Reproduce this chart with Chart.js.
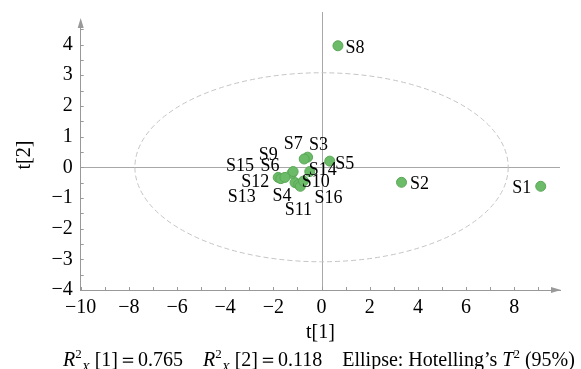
<!DOCTYPE html>
<html>
<head>
<meta charset="utf-8">
<script src="https://cdn.jsdelivr.net/npm/chart.js@4"></script>
<style>
  body { margin: 0; background: #fff; }
  #wrap { position: relative; width: 581px; height: 369px; }
  #note {
    position: absolute; left: 63px; top: 349px;
    font-family: "Liberation Serif", serif; font-size: 20px; color: #000;
    white-space: pre; line-height: 20px;
  }
  #note i { font-style: italic; }
  #note sup, #note sub { font-size: 13px; line-height: 0; }
</style>
</head>
<body>
<div id="wrap">
  <canvas id="scoreChart"></canvas>
  <div id="note"><i>R</i><sup>2</sup><sub><i>X</i></sub> [1]＝0.765    <i>R</i><sup>2</sup><sub><i>X</i></sub> [2]＝0.118    Ellipse: Hotelling’s <i>T</i><sup>2</sup> (95%)</div>
</div>
<script>
const sampleNames = ['S1','S2','S3','S4','S5','S6','S7','S8','S9','S10','S11','S12','S13','S14','S15','S16'];
const t1Values = [9.1, 3.32, -0.58, -1.1, 0.34, -1.23, -0.72, 0.68, -1.18, -0.95, -0.88, -1.8, -1.69, -0.49, -1.52, -0.75];
const t2Values = [-0.62, -0.49, 0.33, -0.5, 0.2, -0.2, 0.27, 3.96, -0.14, -0.56, -0.62, -0.33, -0.37, -0.14, -0.33, -0.45];

const xTicks = [-10, -8, -6, -4, -2, 0, 2, 4, 6, 8];
const yTicks = [-4, -3, -2, -1, 0, 1, 2, 3, 4];

// Hotelling T2 ellipse semi-axes
const ellipseA = 7.75;
const ellipseB = 3.08;

// label offsets in px from each point (dx, dy to label centre)
const labelOffsets = [
  [-19, 2], [18, 2], [11, -12], [-13, 14], [15, 3], [-22, -7], [-11, -15], [17, 2],
  [-25, -16], [17, -2], [-2, 24], [-23, 5], [-39, 19], [13, -1], [-45, -11], [25, 17]
];

const axisColor = '#999';
const serif = '"Liberation Serif", "Times New Roman", serif';

const decorPlugin = {
  id: 'decor',
  beforeDatasetsDraw(chart) {
    const ctx = chart.ctx;
    const xs = chart.scales.x, ys = chart.scales.y;
    const area = chart.chartArea;
    ctx.save();
    // zero lines
    ctx.strokeStyle = '#a8a8a8';
    ctx.lineWidth = 1;
    ctx.beginPath();
    const y0 = Math.round(ys.getPixelForValue(0)) + 0.5;
    const x0 = Math.round(xs.getPixelForValue(0)) + 0.5;
    ctx.moveTo(area.left, y0); ctx.lineTo(area.right, y0);
    ctx.moveTo(x0, area.top - 8); ctx.lineTo(x0, area.bottom);
    ctx.stroke();
    // ellipse
    const cx = xs.getPixelForValue(0), cy = ys.getPixelForValue(0);
    const rx = xs.getPixelForValue(ellipseA) - cx;
    const ry = cy - ys.getPixelForValue(ellipseB);
    ctx.strokeStyle = '#c4c4c4';
    ctx.setLineDash([5, 3]);
    ctx.beginPath();
    ctx.ellipse(cx, cy, rx, ry, 0, 0, Math.PI * 2);
    ctx.stroke();
    ctx.setLineDash([]);
    // inward tick marks
    ctx.strokeStyle = axisColor;
    ctx.beginPath();
    for (let v = xTicks[0]; v <= xTicks[xTicks.length - 1] + 1; v += 1) {
      const px = Math.round(xs.getPixelForValue(v)) + 0.5;
      ctx.moveTo(px, area.bottom); ctx.lineTo(px, area.bottom - 3);
    }
    for (let v = yTicks[0]; v <= yTicks[yTicks.length - 1] + 0.5; v += 0.5) {
      const py = Math.round(ys.getPixelForValue(v)) + 0.5;
      ctx.moveTo(area.left, py); ctx.lineTo(area.left + 3, py);
    }
    ctx.stroke();
    // arrows
    ctx.fillStyle = axisColor;
    ctx.beginPath();
    ctx.moveTo(area.right + 1, area.bottom);
    ctx.lineTo(area.right - 9, area.bottom - 3);
    ctx.lineTo(area.right - 9, area.bottom + 3);
    ctx.closePath();
    ctx.moveTo(area.left, area.top - 2);
    ctx.lineTo(area.left - 3, area.top + 8);
    ctx.lineTo(area.left + 3, area.top + 8);
    ctx.closePath();
    ctx.fill();
    ctx.restore();
  },
  afterDatasetsDraw(chart) {
    const ctx = chart.ctx;
    const meta = chart.getDatasetMeta(0);
    ctx.save();
    ctx.font = '18px ' + serif;
    ctx.fillStyle = '#000';
    ctx.textAlign = 'center';
    ctx.textBaseline = 'middle';
    meta.data.forEach((pt, i) => {
      const off = labelOffsets[i];
      ctx.fillText(sampleNames[i], pt.x + off[0], pt.y + off[1]);
    });
    ctx.restore();
  }
};

const points = t1Values.map((v, i) => ({ x: v, y: t2Values[i] }));

new Chart(document.getElementById('scoreChart'), {
  type: 'scatter',
  data: {
    datasets: [{
      data: points,
      backgroundColor: '#6cbb69',
      borderColor: '#5aa857',
      borderWidth: 1,
      pointRadius: 5,
      pointHoverRadius: 5
    }]
  },
  options: {
    responsive: true,
    maintainAspectRatio: false,
    animation: false,
    layout: { padding: { top: 20, right: 21, left: 0, bottom: 0 } },
    plugins: { legend: { display: false }, tooltip: { enabled: false } },
    scales: {
      x: {
        type: 'linear',
        min: -10,
        max: 9.9,
        afterFit(scale) { scale.height = 79; },
        afterBuildTicks(scale) { scale.ticks = xTicks.map(v => ({ value: v })); },
        grid: { display: false, drawTicks: false },
        border: { display: true, color: axisColor },
        ticks: {
          padding: 6,
          color: '#000',
          font: { family: serif, size: 20 },
          callback: v => String(v).replace('-', '\u2212')
        },
        title: {
          display: true,
          text: 't[1]',
          color: '#000',
          font: { family: serif, size: 20 },
          padding: { top: 0, bottom: 24 }
        }
      },
      y: {
        type: 'linear',
        min: -4,
        max: 4.8,
        afterFit(scale) { scale.width = 80.7; },
        afterBuildTicks(scale) { scale.ticks = yTicks.map(v => ({ value: v })); },
        grid: { display: false, drawTicks: false },
        border: { display: true, color: axisColor },
        ticks: {
          padding: 8,
          color: '#000',
          font: { family: serif, size: 20 },
          callback: v => String(v).replace('-', '\u2212')
        },
        title: {
          display: true,
          text: 't[2]',
          color: '#000',
          font: { family: serif, size: 20 },
          padding: { top: 13, bottom: 0 }
        }
      }
    }
  },
  plugins: [decorPlugin]
});
</script>
</body>
</html>
